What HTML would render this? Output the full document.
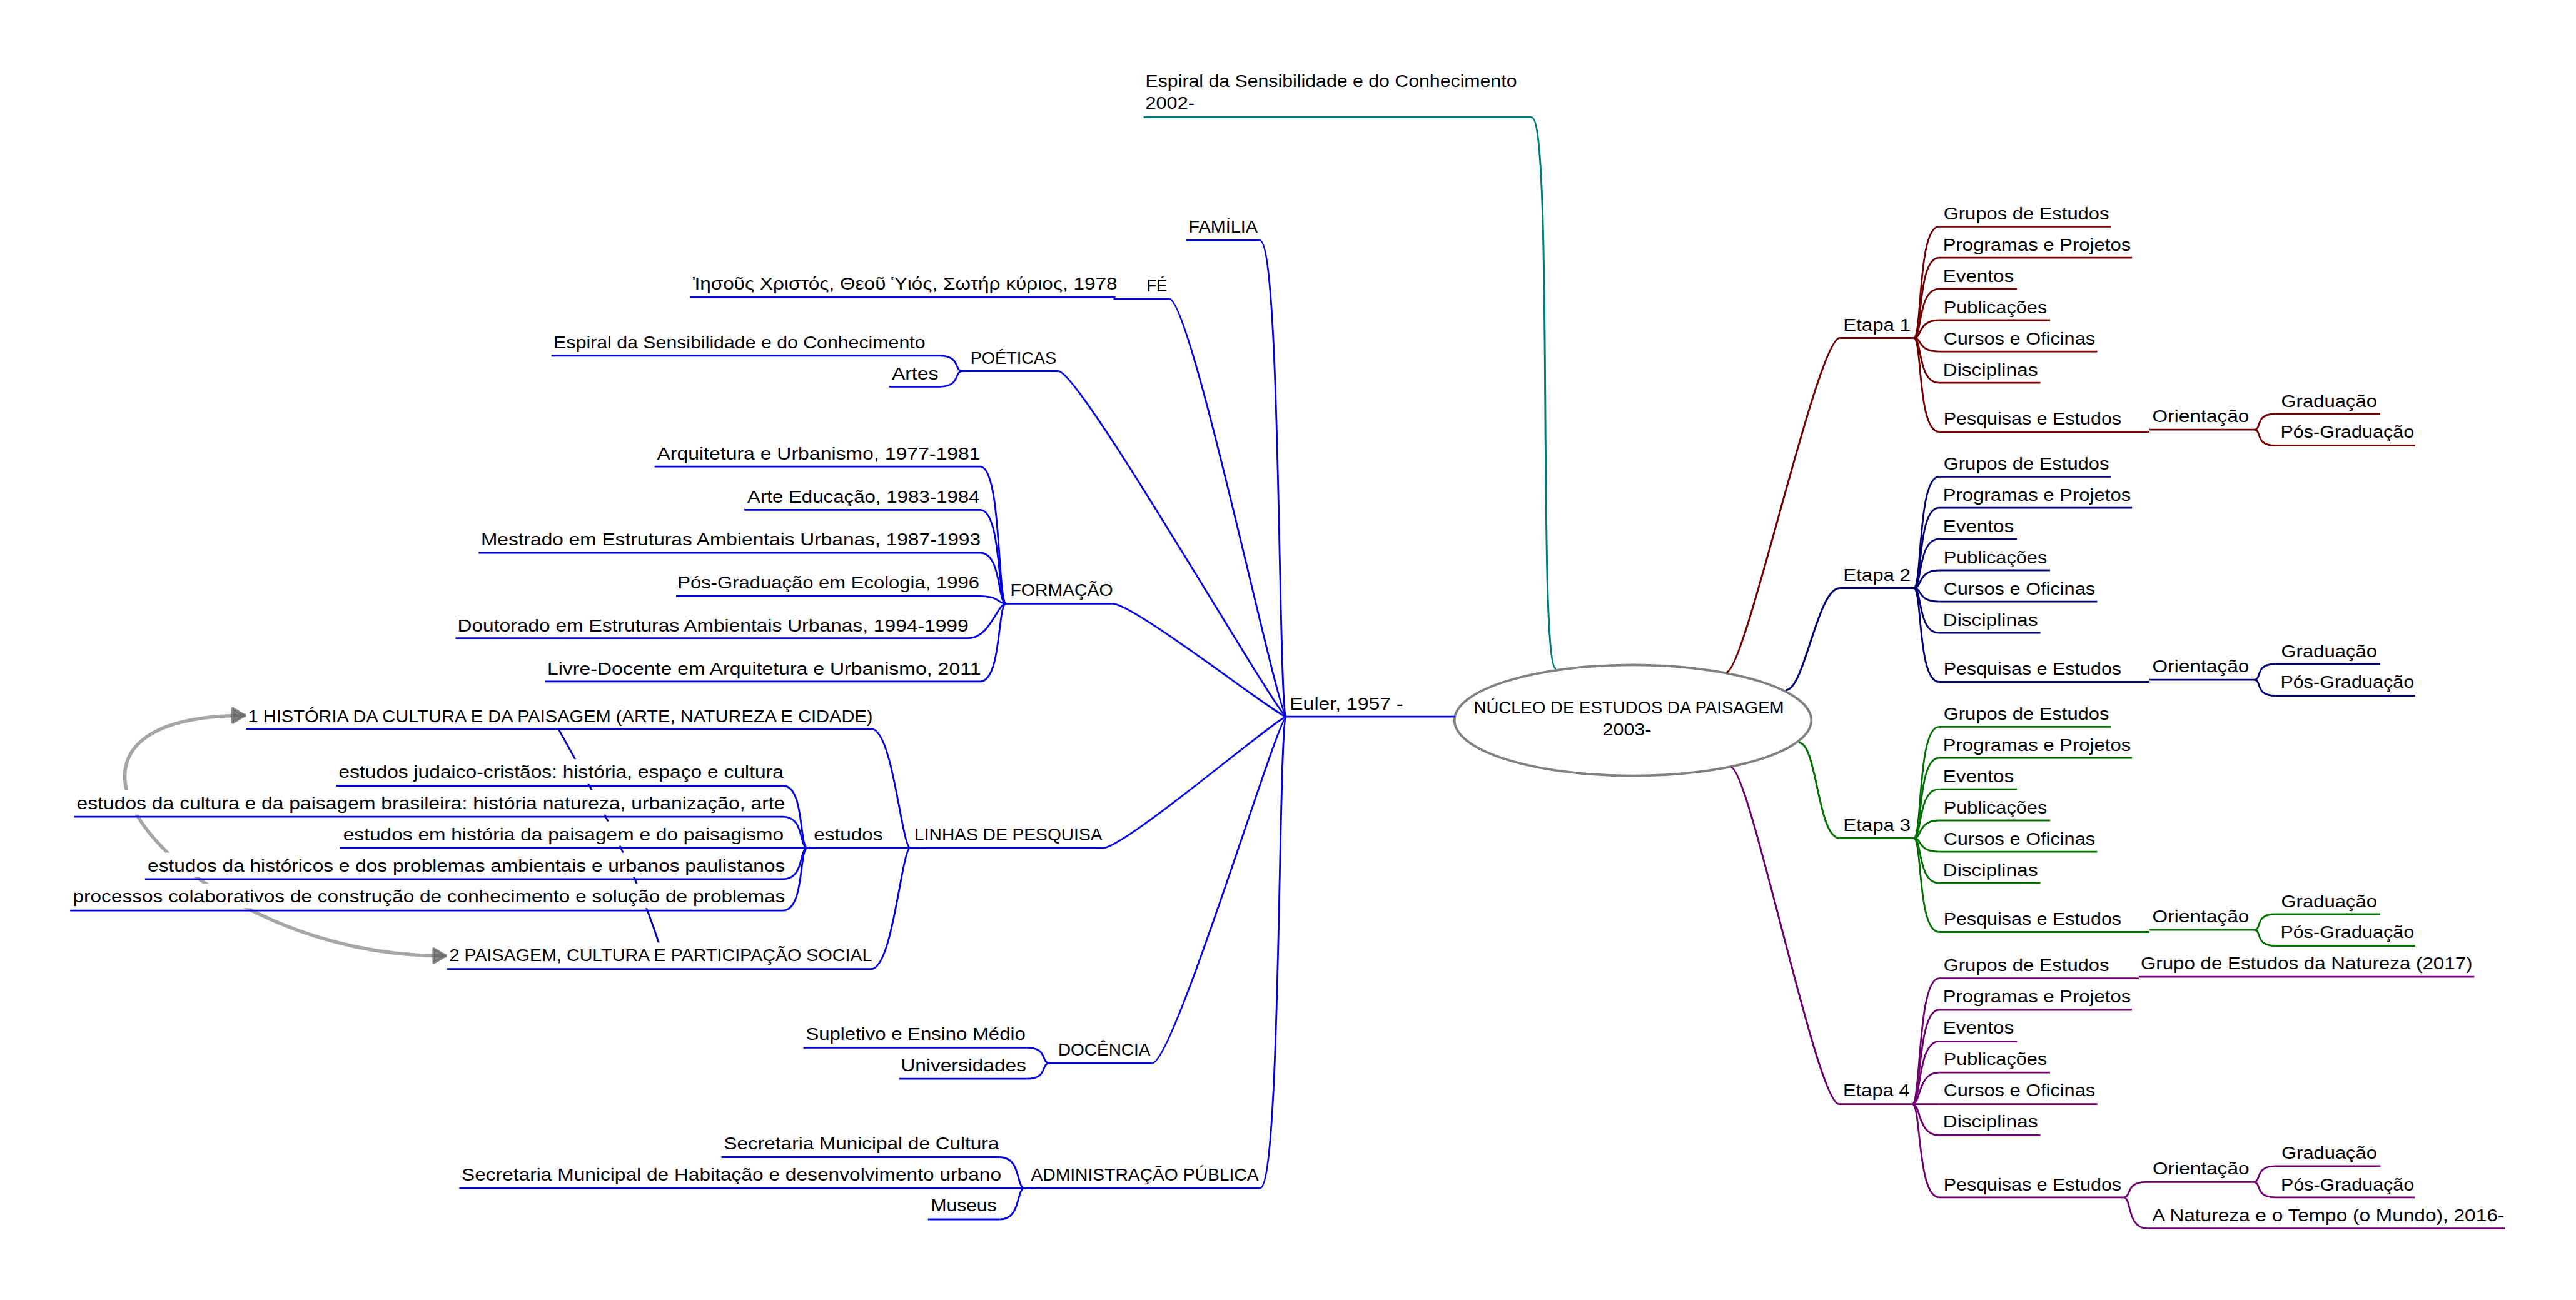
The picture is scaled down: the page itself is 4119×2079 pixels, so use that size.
<!DOCTYPE html><html><head><meta charset="utf-8"><style>html,body{margin:0;padding:0;background:#fff;overflow:hidden}svg{display:block}</style></head><body>
<svg width="4119" height="2079" viewBox="0 0 4119 2079" font-family="'Liberation Sans', sans-serif" font-size="28">
<rect width="100%" height="100%" fill="#fff"/>
<g fill="none" stroke-linecap="round">
<path d="M892.8 1165.6C960 1285.6 1013.9 1387 1053.5 1508" stroke="#0000b4" stroke-width="2.9"/>
<path d="M393.3 1144.3C-27.1 1143.9 309.2 1534.5 714.6 1528.5" stroke="#808080" stroke-opacity="0.7" stroke-width="5.5"/>
</g>
<g fill="#5a5a5a" fill-opacity="0.7" stroke="#6a6a6a" stroke-opacity="0.8" stroke-width="4.5" stroke-linejoin="round">
<path d="M390.8 1144.3L372.3 1133.2L372.3 1155.4Z"/>
<path d="M712.1 1528.5L693.6 1517.4L693.6 1539.6Z"/>
</g>
<g fill="#fff">
<rect x="2057.0" y="1105.4" width="270.0" height="39.0"/>
<rect x="1896.3" y="341.9" width="118.0" height="39.0"/>
<rect x="1780.4" y="435.8" width="89.4" height="39.0"/>
<rect x="1103.7" y="432.8" width="679.8" height="39.0"/>
<rect x="1539.0" y="551.9" width="153.3" height="39.0"/>
<rect x="881.7" y="526.7" width="620.3" height="39.0"/>
<rect x="1421.6" y="577.0" width="80.4" height="39.0"/>
<rect x="1608.7" y="923.3" width="170.1" height="39.0"/>
<rect x="1046.7" y="704.7" width="520.3" height="39.0"/>
<rect x="1190.0" y="773.8" width="377.0" height="39.0"/>
<rect x="765.3" y="842.0" width="801.7" height="39.0"/>
<rect x="1081.0" y="910.5" width="484.0" height="39.0"/>
<rect x="728.6" y="979.6" width="819.4" height="39.0"/>
<rect x="872.0" y="1049.2" width="695.0" height="39.0"/>
<rect x="1455.6" y="1313.7" width="308.4" height="39.0"/>
<rect x="393.5" y="1124.6" width="999.5" height="39.0"/>
<rect x="1291.3" y="1313.7" width="164.3" height="39.0"/>
<rect x="537.4" y="1214.0" width="714.6" height="39.0"/>
<rect x="118.5" y="1263.8" width="1133.5" height="39.0"/>
<rect x="543.0" y="1313.6" width="748.3" height="39.0"/>
<rect x="231.8" y="1363.5" width="1020.2" height="39.0"/>
<rect x="112.2" y="1413.3" width="1139.8" height="39.0"/>
<rect x="714.6" y="1507.4" width="678.4" height="39.0"/>
<rect x="1678.0" y="1657.5" width="164.3" height="39.0"/>
<rect x="1284.5" y="1632.7" width="357.0" height="39.0"/>
<rect x="1437.6" y="1682.5" width="203.9" height="39.0"/>
<rect x="1638.5" y="1857.6" width="376.1" height="39.0"/>
<rect x="1153.6" y="1807.9" width="444.9" height="39.0"/>
<rect x="734.3" y="1857.7" width="904.2" height="39.0"/>
<rect x="1483.7" y="1907.4" width="114.8" height="39.0"/>
<rect x="1828.6" y="109.0" width="620.4" height="73.8"/>
<rect x="2941.7" y="499.1" width="118.3" height="39.0"/>
<rect x="3100.7" y="321.0" width="275.1" height="39.0"/>
<rect x="3100.7" y="370.7" width="308.5" height="39.0"/>
<rect x="3100.7" y="420.8" width="124.3" height="39.0"/>
<rect x="3100.7" y="470.5" width="177.3" height="39.0"/>
<rect x="3100.7" y="520.7" width="252.7" height="39.0"/>
<rect x="3100.7" y="570.8" width="161.8" height="39.0"/>
<rect x="3100.7" y="649.0" width="336.3" height="39.0"/>
<rect x="3437.0" y="645.0" width="167.0" height="39.0"/>
<rect x="3638.7" y="620.5" width="167.2" height="39.0"/>
<rect x="3638.7" y="670.3" width="223.0" height="39.0"/>
<rect x="2941.7" y="899.1" width="118.3" height="39.0"/>
<rect x="3100.7" y="721.0" width="275.1" height="39.0"/>
<rect x="3100.7" y="770.7" width="308.5" height="39.0"/>
<rect x="3100.7" y="820.8" width="124.3" height="39.0"/>
<rect x="3100.7" y="870.5" width="177.3" height="39.0"/>
<rect x="3100.7" y="920.7" width="252.7" height="39.0"/>
<rect x="3100.7" y="970.8" width="161.8" height="39.0"/>
<rect x="3100.7" y="1049.0" width="336.3" height="39.0"/>
<rect x="3437.0" y="1045.0" width="167.0" height="39.0"/>
<rect x="3638.7" y="1020.5" width="167.2" height="39.0"/>
<rect x="3638.7" y="1070.3" width="223.0" height="39.0"/>
<rect x="2941.7" y="1299.1" width="118.3" height="39.0"/>
<rect x="3100.7" y="1121.0" width="275.1" height="39.0"/>
<rect x="3100.7" y="1170.7" width="308.5" height="39.0"/>
<rect x="3100.7" y="1220.8" width="124.3" height="39.0"/>
<rect x="3100.7" y="1270.5" width="177.3" height="39.0"/>
<rect x="3100.7" y="1320.7" width="252.7" height="39.0"/>
<rect x="3100.7" y="1370.8" width="161.8" height="39.0"/>
<rect x="3100.7" y="1449.0" width="336.3" height="39.0"/>
<rect x="3437.0" y="1445.0" width="167.0" height="39.0"/>
<rect x="3638.7" y="1420.5" width="167.2" height="39.0"/>
<rect x="3638.7" y="1470.3" width="223.0" height="39.0"/>
<rect x="2940.5" y="1723.4" width="117.4" height="39.0"/>
<rect x="3100.7" y="1522.8" width="319.1" height="39.0"/>
<rect x="3100.7" y="1572.7" width="308.3" height="39.0"/>
<rect x="3100.7" y="1623.0" width="124.5" height="39.0"/>
<rect x="3100.7" y="1673.0" width="177.3" height="39.0"/>
<rect x="3100.7" y="1723.4" width="253.1" height="39.0"/>
<rect x="3100.7" y="1773.3" width="161.8" height="39.0"/>
<rect x="3100.7" y="1873.5" width="294.7" height="39.0"/>
<rect x="3419.8" y="1520.4" width="536.6" height="39.0"/>
<rect x="3432.0" y="1848.1" width="171.3" height="39.0"/>
<rect x="3434.5" y="1922.5" width="571.3" height="39.0"/>
<rect x="3638.7" y="1823.2" width="167.6" height="39.0"/>
<rect x="3638.7" y="1873.5" width="222.8" height="39.0"/>
</g>
<ellipse cx="2611" cy="1152" rx="285.3" ry="88.7" fill="#fff" stroke="#808080" stroke-width="3.8"/>
<path d="M2057.0 1146.2H2327.0" fill="none" stroke="#0000e0" stroke-width="2.8"/>
<path d="M1896.3 384.3H2014.3" fill="none" stroke="#0000e0" stroke-width="2.8"/>
<path d="M2014.3 384.3C2049.3 384.3 2043.0 1146.2 2057.0 1146.2" fill="none" stroke="#0000e0" stroke-width="2.8"/>
<path d="M1780.4 478.1H1869.8" fill="none" stroke="#0000e0" stroke-width="2.8"/>
<path d="M1869.8 478.1C1904.8 478.1 2043.0 1146.2 2057.0 1146.2" fill="none" stroke="#0000e0" stroke-width="2.8"/>
<path d="M1103.7 475.3H1783.5" fill="none" stroke="#0000e0" stroke-width="2.8"/>
<path d="M1539.0 593.5H1692.3" fill="none" stroke="#0000e0" stroke-width="2.8"/>
<path d="M1692.3 593.5C1727.3 593.5 2043.0 1146.2 2057.0 1146.2" fill="none" stroke="#0000e0" stroke-width="2.8"/>
<path d="M881.7 568.8H1502.0" fill="none" stroke="#0000e0" stroke-width="2.8"/>
<path d="M1502.0 568.8C1537.0 568.8 1525.0 593.5 1539.0 593.5" fill="none" stroke="#0000e0" stroke-width="2.8"/>
<path d="M1421.6 618.3H1502.0" fill="none" stroke="#0000e0" stroke-width="2.8"/>
<path d="M1502.0 618.3C1537.0 618.3 1525.0 593.5 1539.0 593.5" fill="none" stroke="#0000e0" stroke-width="2.8"/>
<path d="M1608.7 965.3H1778.8" fill="none" stroke="#0000e0" stroke-width="2.8"/>
<path d="M1778.8 965.3C1813.8 965.3 2043.0 1146.2 2057.0 1146.2" fill="none" stroke="#0000e0" stroke-width="2.8"/>
<path d="M1046.7 746.2H1567.0" fill="none" stroke="#0000e0" stroke-width="2.8"/>
<path d="M1567.0 746.2C1602.0 746.2 1594.7 965.3 1608.7 965.3" fill="none" stroke="#0000e0" stroke-width="2.8"/>
<path d="M1190.0 815.4H1567.0" fill="none" stroke="#0000e0" stroke-width="2.8"/>
<path d="M1567.0 815.4C1602.0 815.4 1594.7 965.3 1608.7 965.3" fill="none" stroke="#0000e0" stroke-width="2.8"/>
<path d="M765.3 884.0H1567.0" fill="none" stroke="#0000e0" stroke-width="2.8"/>
<path d="M1567.0 884.0C1602.0 884.0 1594.7 965.3 1608.7 965.3" fill="none" stroke="#0000e0" stroke-width="2.8"/>
<path d="M1081.0 953.3H1565.0" fill="none" stroke="#0000e0" stroke-width="2.8"/>
<path d="M1565.0 953.3C1600.0 953.3 1594.7 965.3 1608.7 965.3" fill="none" stroke="#0000e0" stroke-width="2.8"/>
<path d="M728.6 1020.7H1548.0" fill="none" stroke="#0000e0" stroke-width="2.8"/>
<path d="M1548.0 1020.7C1583.0 1020.7 1594.7 965.3 1608.7 965.3" fill="none" stroke="#0000e0" stroke-width="2.8"/>
<path d="M872.0 1089.9H1567.0" fill="none" stroke="#0000e0" stroke-width="2.8"/>
<path d="M1567.0 1089.9C1602.0 1089.9 1594.7 965.3 1608.7 965.3" fill="none" stroke="#0000e0" stroke-width="2.8"/>
<path d="M1455.6 1355.9H1764.0" fill="none" stroke="#0000e0" stroke-width="2.8"/>
<path d="M1764.0 1355.9C1799.0 1355.9 2043.0 1146.2 2057.0 1146.2" fill="none" stroke="#0000e0" stroke-width="2.8"/>
<path d="M393.5 1165.7H1393.0" fill="none" stroke="#0000e0" stroke-width="2.8"/>
<path d="M1393.0 1165.7C1428.0 1165.7 1441.6 1355.9 1455.6 1355.9" fill="none" stroke="#0000e0" stroke-width="2.8"/>
<path d="M1291.3 1355.9H1455.6" fill="none" stroke="#0000e0" stroke-width="2.8"/>
<path d="M1455.6 1355.9C1490.6 1355.9 1441.6 1355.9 1455.6 1355.9" fill="none" stroke="#0000e0" stroke-width="2.8"/>
<path d="M537.4 1256.5H1252.0" fill="none" stroke="#0000e0" stroke-width="2.8"/>
<path d="M1252.0 1256.5C1287.0 1256.5 1277.3 1355.9 1291.3 1355.9" fill="none" stroke="#0000e0" stroke-width="2.8"/>
<path d="M118.5 1306.2H1252.0" fill="none" stroke="#0000e0" stroke-width="2.8"/>
<path d="M1252.0 1306.2C1287.0 1306.2 1277.3 1355.9 1291.3 1355.9" fill="none" stroke="#0000e0" stroke-width="2.8"/>
<path d="M543.0 1355.8H1291.3" fill="none" stroke="#0000e0" stroke-width="2.8"/>
<path d="M1291.3 1355.8C1326.3 1355.8 1277.3 1355.9 1291.3 1355.9" fill="none" stroke="#0000e0" stroke-width="2.8"/>
<path d="M231.8 1405.9H1252.0" fill="none" stroke="#0000e0" stroke-width="2.8"/>
<path d="M1252.0 1405.9C1287.0 1405.9 1277.3 1355.9 1291.3 1355.9" fill="none" stroke="#0000e0" stroke-width="2.8"/>
<path d="M112.2 1456.1H1252.0" fill="none" stroke="#0000e0" stroke-width="2.8"/>
<path d="M1252.0 1456.1C1287.0 1456.1 1277.3 1355.9 1291.3 1355.9" fill="none" stroke="#0000e0" stroke-width="2.8"/>
<path d="M714.6 1549.7H1393.0" fill="none" stroke="#0000e0" stroke-width="2.8"/>
<path d="M1393.0 1549.7C1428.0 1549.7 1441.6 1355.9 1455.6 1355.9" fill="none" stroke="#0000e0" stroke-width="2.8"/>
<path d="M1678.0 1700.2H1842.3" fill="none" stroke="#0000e0" stroke-width="2.8"/>
<path d="M1842.3 1700.2C1877.3 1700.2 2043.0 1146.2 2057.0 1146.2" fill="none" stroke="#0000e0" stroke-width="2.8"/>
<path d="M1284.5 1675.4H1641.5" fill="none" stroke="#0000e0" stroke-width="2.8"/>
<path d="M1641.5 1675.4C1676.5 1675.4 1664.0 1700.2 1678.0 1700.2" fill="none" stroke="#0000e0" stroke-width="2.8"/>
<path d="M1437.6 1725.2H1641.5" fill="none" stroke="#0000e0" stroke-width="2.8"/>
<path d="M1641.5 1725.2C1676.5 1725.2 1664.0 1700.2 1678.0 1700.2" fill="none" stroke="#0000e0" stroke-width="2.8"/>
<path d="M1638.5 1900.2H2014.6" fill="none" stroke="#0000e0" stroke-width="2.8"/>
<path d="M2014.6 1900.2C2049.6 1900.2 2043.0 1146.2 2057.0 1146.2" fill="none" stroke="#0000e0" stroke-width="2.8"/>
<path d="M1153.6 1850.5H1598.5" fill="none" stroke="#0000e0" stroke-width="2.8"/>
<path d="M1598.5 1850.5C1633.5 1850.5 1624.5 1900.2 1638.5 1900.2" fill="none" stroke="#0000e0" stroke-width="2.8"/>
<path d="M734.3 1900.2H1638.5" fill="none" stroke="#0000e0" stroke-width="2.8"/>
<path d="M1638.5 1900.2C1673.5 1900.2 1624.5 1900.2 1638.5 1900.2" fill="none" stroke="#0000e0" stroke-width="2.8"/>
<path d="M1483.7 1950.0H1598.5" fill="none" stroke="#0000e0" stroke-width="2.8"/>
<path d="M1598.5 1950.0C1633.5 1950.0 1624.5 1900.2 1638.5 1900.2" fill="none" stroke="#0000e0" stroke-width="2.8"/>
<path d="M1828.6 187.5H2449.0" fill="none" stroke="#007b7b" stroke-width="2.8"/>
<path d="M2488 1069.3C2458 1069.3 2485 187.5 2449 187.5" fill="none" stroke="#007b7b" stroke-width="3.0"/>
<path d="M2941.7 540.5H3060.0" fill="none" stroke="#730000" stroke-width="2.8"/>
<path d="M2760.9 1074.7C2790.9 1074.7 2905.7 540.5 2941.7 540.5" fill="none" stroke="#730000" stroke-width="3.0"/>
<path d="M3100.7 362.4H3375.8" fill="none" stroke="#730000" stroke-width="2.8"/>
<path d="M3060.0 540.5C3074.0 540.5 3065.7 362.4 3100.7 362.4" fill="none" stroke="#730000" stroke-width="2.8"/>
<path d="M3100.7 412.1H3409.2" fill="none" stroke="#730000" stroke-width="2.8"/>
<path d="M3060.0 540.5C3074.0 540.5 3065.7 412.1 3100.7 412.1" fill="none" stroke="#730000" stroke-width="2.8"/>
<path d="M3100.7 462.2H3225.0" fill="none" stroke="#730000" stroke-width="2.8"/>
<path d="M3060.0 540.5C3074.0 540.5 3065.7 462.2 3100.7 462.2" fill="none" stroke="#730000" stroke-width="2.8"/>
<path d="M3100.7 512.0H3278.0" fill="none" stroke="#730000" stroke-width="2.8"/>
<path d="M3060.0 540.5C3074.0 540.5 3065.7 512.0 3100.7 512.0" fill="none" stroke="#730000" stroke-width="2.8"/>
<path d="M3100.7 562.1H3353.4" fill="none" stroke="#730000" stroke-width="2.8"/>
<path d="M3060.0 540.5C3074.0 540.5 3065.7 562.1 3100.7 562.1" fill="none" stroke="#730000" stroke-width="2.8"/>
<path d="M3100.7 612.2H3262.5" fill="none" stroke="#730000" stroke-width="2.8"/>
<path d="M3060.0 540.5C3074.0 540.5 3065.7 612.2 3100.7 612.2" fill="none" stroke="#730000" stroke-width="2.8"/>
<path d="M3100.7 690.5H3437.0" fill="none" stroke="#730000" stroke-width="2.8"/>
<path d="M3060.0 540.5C3074.0 540.5 3065.7 690.5 3100.7 690.5" fill="none" stroke="#730000" stroke-width="2.8"/>
<path d="M3437.0 687.2H3604.0" fill="none" stroke="#730000" stroke-width="2.8"/>
<path d="M3638.7 662.0H3805.9" fill="none" stroke="#730000" stroke-width="2.8"/>
<path d="M3604.0 687.2C3618.0 687.2 3603.7 662.0 3638.7 662.0" fill="none" stroke="#730000" stroke-width="2.8"/>
<path d="M3638.7 712.5H3861.7" fill="none" stroke="#730000" stroke-width="2.8"/>
<path d="M3604.0 687.2C3618.0 687.2 3603.7 712.5 3638.7 712.5" fill="none" stroke="#730000" stroke-width="2.8"/>
<path d="M2941.7 940.5H3060.0" fill="none" stroke="#000073" stroke-width="2.8"/>
<path d="M2855.7 1103.5C2885.7 1103.5 2905.7 940.5 2941.7 940.5" fill="none" stroke="#000073" stroke-width="3.0"/>
<path d="M3100.7 762.4H3375.8" fill="none" stroke="#000073" stroke-width="2.8"/>
<path d="M3060.0 940.5C3074.0 940.5 3065.7 762.4 3100.7 762.4" fill="none" stroke="#000073" stroke-width="2.8"/>
<path d="M3100.7 812.1H3409.2" fill="none" stroke="#000073" stroke-width="2.8"/>
<path d="M3060.0 940.5C3074.0 940.5 3065.7 812.1 3100.7 812.1" fill="none" stroke="#000073" stroke-width="2.8"/>
<path d="M3100.7 862.2H3225.0" fill="none" stroke="#000073" stroke-width="2.8"/>
<path d="M3060.0 940.5C3074.0 940.5 3065.7 862.2 3100.7 862.2" fill="none" stroke="#000073" stroke-width="2.8"/>
<path d="M3100.7 912.0H3278.0" fill="none" stroke="#000073" stroke-width="2.8"/>
<path d="M3060.0 940.5C3074.0 940.5 3065.7 912.0 3100.7 912.0" fill="none" stroke="#000073" stroke-width="2.8"/>
<path d="M3100.7 962.1H3353.4" fill="none" stroke="#000073" stroke-width="2.8"/>
<path d="M3060.0 940.5C3074.0 940.5 3065.7 962.1 3100.7 962.1" fill="none" stroke="#000073" stroke-width="2.8"/>
<path d="M3100.7 1012.2H3262.5" fill="none" stroke="#000073" stroke-width="2.8"/>
<path d="M3060.0 940.5C3074.0 940.5 3065.7 1012.2 3100.7 1012.2" fill="none" stroke="#000073" stroke-width="2.8"/>
<path d="M3100.7 1090.5H3437.0" fill="none" stroke="#000073" stroke-width="2.8"/>
<path d="M3060.0 940.5C3074.0 940.5 3065.7 1090.5 3100.7 1090.5" fill="none" stroke="#000073" stroke-width="2.8"/>
<path d="M3437.0 1087.2H3604.0" fill="none" stroke="#000073" stroke-width="2.8"/>
<path d="M3638.7 1062.0H3805.9" fill="none" stroke="#000073" stroke-width="2.8"/>
<path d="M3604.0 1087.2C3618.0 1087.2 3603.7 1062.0 3638.7 1062.0" fill="none" stroke="#000073" stroke-width="2.8"/>
<path d="M3638.7 1112.5H3861.7" fill="none" stroke="#000073" stroke-width="2.8"/>
<path d="M3604.0 1087.2C3618.0 1087.2 3603.7 1112.5 3638.7 1112.5" fill="none" stroke="#000073" stroke-width="2.8"/>
<path d="M2941.7 1340.5H3060.0" fill="none" stroke="#007000" stroke-width="2.8"/>
<path d="M2876.0 1187.5C2906.0 1187.5 2905.7 1340.5 2941.7 1340.5" fill="none" stroke="#007000" stroke-width="3.0"/>
<path d="M3100.7 1162.4H3375.8" fill="none" stroke="#007000" stroke-width="2.8"/>
<path d="M3060.0 1340.5C3074.0 1340.5 3065.7 1162.4 3100.7 1162.4" fill="none" stroke="#007000" stroke-width="2.8"/>
<path d="M3100.7 1212.1H3409.2" fill="none" stroke="#007000" stroke-width="2.8"/>
<path d="M3060.0 1340.5C3074.0 1340.5 3065.7 1212.1 3100.7 1212.1" fill="none" stroke="#007000" stroke-width="2.8"/>
<path d="M3100.7 1262.2H3225.0" fill="none" stroke="#007000" stroke-width="2.8"/>
<path d="M3060.0 1340.5C3074.0 1340.5 3065.7 1262.2 3100.7 1262.2" fill="none" stroke="#007000" stroke-width="2.8"/>
<path d="M3100.7 1312.0H3278.0" fill="none" stroke="#007000" stroke-width="2.8"/>
<path d="M3060.0 1340.5C3074.0 1340.5 3065.7 1312.0 3100.7 1312.0" fill="none" stroke="#007000" stroke-width="2.8"/>
<path d="M3100.7 1362.1H3353.4" fill="none" stroke="#007000" stroke-width="2.8"/>
<path d="M3060.0 1340.5C3074.0 1340.5 3065.7 1362.1 3100.7 1362.1" fill="none" stroke="#007000" stroke-width="2.8"/>
<path d="M3100.7 1412.2H3262.5" fill="none" stroke="#007000" stroke-width="2.8"/>
<path d="M3060.0 1340.5C3074.0 1340.5 3065.7 1412.2 3100.7 1412.2" fill="none" stroke="#007000" stroke-width="2.8"/>
<path d="M3100.7 1490.5H3437.0" fill="none" stroke="#007000" stroke-width="2.8"/>
<path d="M3060.0 1340.5C3074.0 1340.5 3065.7 1490.5 3100.7 1490.5" fill="none" stroke="#007000" stroke-width="2.8"/>
<path d="M3437.0 1487.2H3604.0" fill="none" stroke="#007000" stroke-width="2.8"/>
<path d="M3638.7 1462.0H3805.9" fill="none" stroke="#007000" stroke-width="2.8"/>
<path d="M3604.0 1487.2C3618.0 1487.2 3603.7 1462.0 3638.7 1462.0" fill="none" stroke="#007000" stroke-width="2.8"/>
<path d="M3638.7 1512.5H3861.7" fill="none" stroke="#007000" stroke-width="2.8"/>
<path d="M3604.0 1487.2C3618.0 1487.2 3603.7 1512.5 3638.7 1512.5" fill="none" stroke="#007000" stroke-width="2.8"/>
<path d="M2940.5 1765.6H3057.9" fill="none" stroke="#700070" stroke-width="2.8"/>
<path d="M2767.7 1227.0C2797.7 1227.0 2904.5 1765.6 2940.5 1765.6" fill="none" stroke="#700070" stroke-width="3.0"/>
<path d="M3100.7 1564.6H3419.8" fill="none" stroke="#700070" stroke-width="2.8"/>
<path d="M3057.9 1765.6C3071.9 1765.6 3065.7 1564.6 3100.7 1564.6" fill="none" stroke="#700070" stroke-width="2.8"/>
<path d="M3100.7 1615.0H3409.0" fill="none" stroke="#700070" stroke-width="2.8"/>
<path d="M3057.9 1765.6C3071.9 1765.6 3065.7 1615.0 3100.7 1615.0" fill="none" stroke="#700070" stroke-width="2.8"/>
<path d="M3100.7 1665.3H3225.2" fill="none" stroke="#700070" stroke-width="2.8"/>
<path d="M3057.9 1765.6C3071.9 1765.6 3065.7 1665.3 3100.7 1665.3" fill="none" stroke="#700070" stroke-width="2.8"/>
<path d="M3100.7 1715.2H3278.0" fill="none" stroke="#700070" stroke-width="2.8"/>
<path d="M3057.9 1765.6C3071.9 1765.6 3065.7 1715.2 3100.7 1715.2" fill="none" stroke="#700070" stroke-width="2.8"/>
<path d="M3100.7 1765.6H3353.8" fill="none" stroke="#700070" stroke-width="2.8"/>
<path d="M3057.9 1765.6C3071.9 1765.6 3065.7 1765.6 3100.7 1765.6" fill="none" stroke="#700070" stroke-width="2.8"/>
<path d="M3100.7 1815.5H3262.5" fill="none" stroke="#700070" stroke-width="2.8"/>
<path d="M3057.9 1765.6C3071.9 1765.6 3065.7 1815.5 3100.7 1815.5" fill="none" stroke="#700070" stroke-width="2.8"/>
<path d="M3100.7 1914.8H3395.4" fill="none" stroke="#700070" stroke-width="2.8"/>
<path d="M3057.9 1765.6C3071.9 1765.6 3065.7 1914.8 3100.7 1914.8" fill="none" stroke="#700070" stroke-width="2.8"/>
<path d="M3419.8 1562.1H3956.4" fill="none" stroke="#700070" stroke-width="2.8"/>
<path d="M3432.0 1890.3H3603.3" fill="none" stroke="#700070" stroke-width="2.8"/>
<path d="M3395.4 1914.8C3409.4 1914.8 3397.0 1890.3 3432.0 1890.3" fill="none" stroke="#700070" stroke-width="2.8"/>
<path d="M3434.5 1964.7H4005.8" fill="none" stroke="#700070" stroke-width="2.8"/>
<path d="M3395.4 1914.8C3409.4 1914.8 3399.5 1964.7 3434.5 1964.7" fill="none" stroke="#700070" stroke-width="2.8"/>
<path d="M3638.7 1864.9H3806.3" fill="none" stroke="#700070" stroke-width="2.8"/>
<path d="M3603.3 1890.3C3617.3 1890.3 3603.7 1864.9 3638.7 1864.9" fill="none" stroke="#700070" stroke-width="2.8"/>
<path d="M3638.7 1914.8H3861.5" fill="none" stroke="#700070" stroke-width="2.8"/>
<path d="M3603.3 1890.3C3617.3 1890.3 3603.7 1914.8 3638.7 1914.8" fill="none" stroke="#700070" stroke-width="2.8"/>
<g fill="#000">
<text x="2062.30" y="1135.40" textLength="181.20" lengthAdjust="spacingAndGlyphs">Euler, 1957 -</text>
<text x="1900.50" y="371.90" textLength="110.40" lengthAdjust="spacingAndGlyphs">FAMÍLIA</text>
<text x="1833.50" y="465.80" textLength="32.60" lengthAdjust="spacingAndGlyphs">FÉ</text>
<text x="1107.50" y="462.80" textLength="679.00" lengthAdjust="spacingAndGlyphs">Ἰησοῦς Χριστός, Θεοῦ Ὑιός, Σωτήρ κύριος, 1978</text>
<text x="1551.70" y="581.90" textLength="137.40" lengthAdjust="spacingAndGlyphs">POÉTICAS</text>
<text x="885.30" y="556.70" textLength="594.20" lengthAdjust="spacingAndGlyphs">Espiral da Sensibilidade e do Conhecimento</text>
<text x="1425.90" y="607.00" textLength="74.60" lengthAdjust="spacingAndGlyphs">Artes</text>
<text x="1615.50" y="953.30" textLength="164.00" lengthAdjust="spacingAndGlyphs">FORMAÇÃO</text>
<text x="1050.50" y="734.70" textLength="517.00" lengthAdjust="spacingAndGlyphs">Arquitetura e Urbanismo, 1977-1981</text>
<text x="1195.10" y="803.80" textLength="371.40" lengthAdjust="spacingAndGlyphs">Arte Educação, 1983-1984</text>
<text x="768.90" y="872.00" textLength="799.20" lengthAdjust="spacingAndGlyphs">Mestrado em Estruturas Ambientais Urbanas, 1987-1993</text>
<text x="1083.30" y="940.50" textLength="482.60" lengthAdjust="spacingAndGlyphs">Pós-Graduação em Ecologia, 1996</text>
<text x="731.50" y="1009.60" textLength="817.20" lengthAdjust="spacingAndGlyphs">Doutorado em Estruturas Ambientais Urbanas, 1994-1999</text>
<text x="874.90" y="1079.20" textLength="693.60" lengthAdjust="spacingAndGlyphs">Livre-Docente em Arquitetura e Urbanismo, 2011</text>
<text x="1462.10" y="1343.70" textLength="300.40" lengthAdjust="spacingAndGlyphs">LINHAS DE PESQUISA</text>
<text x="396.50" y="1154.60" textLength="999.00" lengthAdjust="spacingAndGlyphs">1 HISTÓRIA DA CULTURA E DA PAISAGEM (ARTE, NATUREZA E CIDADE)</text>
<text x="1301.30" y="1343.70" textLength="110.20" lengthAdjust="spacingAndGlyphs">estudos</text>
<text x="541.50" y="1244.00" textLength="711.40" lengthAdjust="spacingAndGlyphs">estudos judaico-cristãos: história, espaço e cultura</text>
<text x="122.50" y="1293.80" textLength="1132.80" lengthAdjust="spacingAndGlyphs">estudos da cultura e da paisagem brasileira: história natureza, urbanização, arte</text>
<text x="548.70" y="1343.60" textLength="704.40" lengthAdjust="spacingAndGlyphs">estudos em história da paisagem e do paisagismo</text>
<text x="236.10" y="1393.50" textLength="1019.20" lengthAdjust="spacingAndGlyphs">estudos da históricos e dos problemas ambientais e urbanos paulistanos</text>
<text x="116.50" y="1443.30" textLength="1138.80" lengthAdjust="spacingAndGlyphs">processos colaborativos de construção de conhecimento e solução de problemas</text>
<text x="718.50" y="1537.40" textLength="676.00" lengthAdjust="spacingAndGlyphs">2 PAISAGEM, CULTURA E PARTICIPAÇÃO SOCIAL</text>
<text x="1691.90" y="1687.50" textLength="147.60" lengthAdjust="spacingAndGlyphs">DOCÊNCIA</text>
<text x="1288.50" y="1662.70" textLength="351.20" lengthAdjust="spacingAndGlyphs">Supletivo e Ensino Médio</text>
<text x="1440.50" y="1712.50" textLength="200.40" lengthAdjust="spacingAndGlyphs">Universidades</text>
<text x="1648.50" y="1887.60" textLength="364.00" lengthAdjust="spacingAndGlyphs">ADMINISTRAÇÃO PÚBLICA</text>
<text x="1157.50" y="1837.90" textLength="439.80" lengthAdjust="spacingAndGlyphs">Secretaria Municipal de Cultura</text>
<text x="738.10" y="1887.70" textLength="863.00" lengthAdjust="spacingAndGlyphs">Secretaria Municipal de Habitação e desenvolvimento urbano</text>
<text x="1488.50" y="1937.40" textLength="105.00" lengthAdjust="spacingAndGlyphs">Museus</text>
<text x="1831.50" y="139.00" textLength="594.00" lengthAdjust="spacingAndGlyphs">Espiral da Sensibilidade e do Conhecimento</text>
<text x="1831.50" y="173.80" textLength="78.40" lengthAdjust="spacingAndGlyphs">2002-</text>
<text x="2947.30" y="529.10" textLength="107.80" lengthAdjust="spacingAndGlyphs">Etapa 1</text>
<text x="3107.70" y="351.00" textLength="264.80" lengthAdjust="spacingAndGlyphs">Grupos de Estudos</text>
<text x="3106.70" y="400.70" textLength="300.60" lengthAdjust="spacingAndGlyphs">Programas e Projetos</text>
<text x="3106.70" y="450.80" textLength="113.60" lengthAdjust="spacingAndGlyphs">Eventos</text>
<text x="3107.70" y="500.50" textLength="165.60" lengthAdjust="spacingAndGlyphs">Publicações</text>
<text x="3107.70" y="550.70" textLength="242.40" lengthAdjust="spacingAndGlyphs">Cursos e Oficinas</text>
<text x="3106.70" y="600.80" textLength="152.00" lengthAdjust="spacingAndGlyphs">Disciplinas</text>
<text x="3107.70" y="679.00" textLength="284.40" lengthAdjust="spacingAndGlyphs">Pesquisas e Estudos</text>
<text x="3441.50" y="675.00" textLength="155.00" lengthAdjust="spacingAndGlyphs">Orientação</text>
<text x="3647.50" y="650.50" textLength="153.40" lengthAdjust="spacingAndGlyphs">Graduação</text>
<text x="3646.50" y="700.30" textLength="213.60" lengthAdjust="spacingAndGlyphs">Pós-Graduação</text>
<text x="2947.30" y="929.10" textLength="107.80" lengthAdjust="spacingAndGlyphs">Etapa 2</text>
<text x="3107.70" y="751.00" textLength="264.80" lengthAdjust="spacingAndGlyphs">Grupos de Estudos</text>
<text x="3106.70" y="800.70" textLength="300.60" lengthAdjust="spacingAndGlyphs">Programas e Projetos</text>
<text x="3106.70" y="850.80" textLength="113.60" lengthAdjust="spacingAndGlyphs">Eventos</text>
<text x="3107.70" y="900.50" textLength="165.60" lengthAdjust="spacingAndGlyphs">Publicações</text>
<text x="3107.70" y="950.70" textLength="242.40" lengthAdjust="spacingAndGlyphs">Cursos e Oficinas</text>
<text x="3106.70" y="1000.80" textLength="152.00" lengthAdjust="spacingAndGlyphs">Disciplinas</text>
<text x="3107.70" y="1079.00" textLength="284.40" lengthAdjust="spacingAndGlyphs">Pesquisas e Estudos</text>
<text x="3441.50" y="1075.00" textLength="155.00" lengthAdjust="spacingAndGlyphs">Orientação</text>
<text x="3647.50" y="1050.50" textLength="153.40" lengthAdjust="spacingAndGlyphs">Graduação</text>
<text x="3646.50" y="1100.30" textLength="213.60" lengthAdjust="spacingAndGlyphs">Pós-Graduação</text>
<text x="2947.30" y="1329.10" textLength="107.80" lengthAdjust="spacingAndGlyphs">Etapa 3</text>
<text x="3107.70" y="1151.00" textLength="264.80" lengthAdjust="spacingAndGlyphs">Grupos de Estudos</text>
<text x="3106.70" y="1200.70" textLength="300.60" lengthAdjust="spacingAndGlyphs">Programas e Projetos</text>
<text x="3106.70" y="1250.80" textLength="113.60" lengthAdjust="spacingAndGlyphs">Eventos</text>
<text x="3107.70" y="1300.50" textLength="165.60" lengthAdjust="spacingAndGlyphs">Publicações</text>
<text x="3107.70" y="1350.70" textLength="242.40" lengthAdjust="spacingAndGlyphs">Cursos e Oficinas</text>
<text x="3106.70" y="1400.80" textLength="152.00" lengthAdjust="spacingAndGlyphs">Disciplinas</text>
<text x="3107.70" y="1479.00" textLength="284.40" lengthAdjust="spacingAndGlyphs">Pesquisas e Estudos</text>
<text x="3441.50" y="1475.00" textLength="155.00" lengthAdjust="spacingAndGlyphs">Orientação</text>
<text x="3647.50" y="1450.50" textLength="153.40" lengthAdjust="spacingAndGlyphs">Graduação</text>
<text x="3646.50" y="1500.30" textLength="213.60" lengthAdjust="spacingAndGlyphs">Pós-Graduação</text>
<text x="2947.10" y="1753.40" textLength="106.40" lengthAdjust="spacingAndGlyphs">Etapa 4</text>
<text x="3107.70" y="1552.80" textLength="264.80" lengthAdjust="spacingAndGlyphs">Grupos de Estudos</text>
<text x="3106.70" y="1602.70" textLength="300.60" lengthAdjust="spacingAndGlyphs">Programas e Projetos</text>
<text x="3106.70" y="1653.00" textLength="113.60" lengthAdjust="spacingAndGlyphs">Eventos</text>
<text x="3107.70" y="1703.00" textLength="165.60" lengthAdjust="spacingAndGlyphs">Publicações</text>
<text x="3107.70" y="1753.40" textLength="242.40" lengthAdjust="spacingAndGlyphs">Cursos e Oficinas</text>
<text x="3106.70" y="1803.30" textLength="152.00" lengthAdjust="spacingAndGlyphs">Disciplinas</text>
<text x="3107.70" y="1903.50" textLength="284.40" lengthAdjust="spacingAndGlyphs">Pesquisas e Estudos</text>
<text x="3422.90" y="1550.40" textLength="530.60" lengthAdjust="spacingAndGlyphs">Grupo de Estudos da Natureza (2017)</text>
<text x="3442.10" y="1878.10" textLength="154.40" lengthAdjust="spacingAndGlyphs">Orientação</text>
<text x="3441.30" y="1952.50" textLength="563.00" lengthAdjust="spacingAndGlyphs">A Natureza e o Tempo (o Mundo), 2016-</text>
<text x="3648.10" y="1853.20" textLength="152.80" lengthAdjust="spacingAndGlyphs">Graduação</text>
<text x="3647.10" y="1903.50" textLength="213.00" lengthAdjust="spacingAndGlyphs">Pós-Graduação</text>
<text x="2356.50" y="1141.00" textLength="496.00" lengthAdjust="spacingAndGlyphs">NÚCLEO DE ESTUDOS DA PAISAGEM</text>
<text x="2562.50" y="1175.70" textLength="78.00" lengthAdjust="spacingAndGlyphs">2003-</text>
</g></svg></body></html>
